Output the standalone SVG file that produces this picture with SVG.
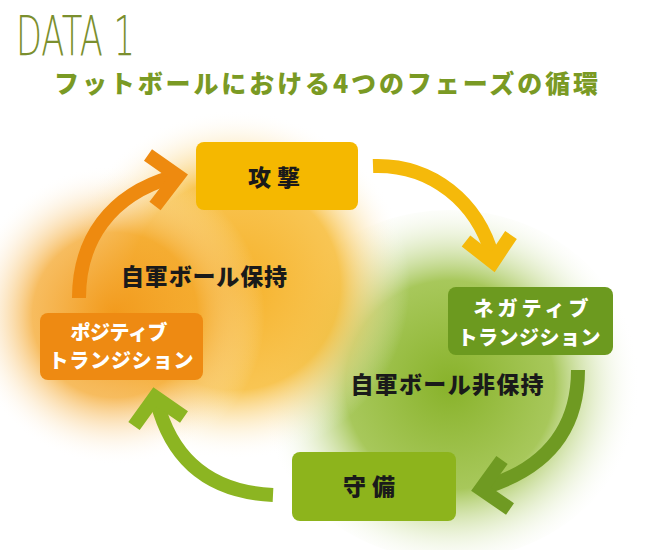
<svg xmlns="http://www.w3.org/2000/svg" width="650" height="550" viewBox="0 0 650 550">
<defs>
<radialGradient id="gYel" cx="235" cy="285" r="175" gradientUnits="userSpaceOnUse">
<stop offset="0" stop-color="#F6B12A" stop-opacity="1"/>
<stop offset="0.6" stop-color="#F7BB35" stop-opacity="0.85"/>
<stop offset="1" stop-color="#FFFFFF" stop-opacity="0"/>
</radialGradient>
<radialGradient id="gOra" cx="115" cy="315" r="150" gradientUnits="userSpaceOnUse">
<stop offset="0" stop-color="#F29A1C" stop-opacity="1"/>
<stop offset="0.55" stop-color="#F4A62A" stop-opacity="0.75"/>
<stop offset="1" stop-color="#FFFFFF" stop-opacity="0"/>
</radialGradient>
<radialGradient id="gGrn" cx="450" cy="385" r="190" gradientUnits="userSpaceOnUse">
<stop offset="0" stop-color="#88B22A" stop-opacity="1"/>
<stop offset="0.55" stop-color="#98BE3E" stop-opacity="0.85"/>
<stop offset="1" stop-color="#FFFFFF" stop-opacity="0"/>
</radialGradient>
<style>
.box{stroke:none}
.lab{font-family:"Noto Sans CJK JP","Noto Sans",sans-serif;font-weight:900;text-anchor:middle}
.blk{fill:#1A1A1A}
.wht{fill:#FFFFFF}
.arr{fill:none;stroke-width:14;stroke-linecap:butt;stroke-linejoin:miter;stroke-miterlimit:10}
</style>
</defs>
<rect width="650" height="550" fill="#FFFFFF"/>
<g id="background">
<ellipse cx="450" cy="385" rx="190" ry="175" fill="url(#gGrn)"/>
<ellipse cx="235" cy="285" rx="175" ry="175" fill="url(#gYel)"/>
<ellipse cx="115" cy="315" rx="150" ry="150" fill="url(#gOra)"/>
</g>
<g id="heading">
<text x="16" y="55" font-family="DejaVu Sans, sans-serif" font-size="56" font-weight="200" fill="#7B8F2E" textLength="119" lengthAdjust="spacingAndGlyphs">DATA 1</text>
<text x="54" y="93" font-family="Noto Sans CJK JP, sans-serif" font-size="25" font-weight="900" fill="#7A9A24" textLength="544" lengthAdjust="spacing">フットボールにおける4つのフェーズの循環</text>
</g>
<g id="connectors">
<g id="c-attack-neg">
<path class="arr" stroke="#F5B90A" d="M373 166 C432 164 478 202 493 258"/>
<polyline class="arr" stroke="#F5B90A" points="466,241 493,262 511,235"/>
</g>
<g id="c-neg-def">
<path class="arr" stroke="#6F9A22" d="M578 370 C578 430 546 468 486 487"/>
<polyline class="arr" stroke="#6F9A22" points="502,460 481,489 510,509"/>
</g>
<g id="c-def-pos">
<path class="arr" stroke="#8CB522" d="M273 495 C210 492 172 460 157 402"/>
<polyline class="arr" stroke="#8CB522" points="134,426 155,397 184,417"/>
</g>
<g id="c-pos-attack">
<path class="arr" stroke="#EE8A0F" d="M79 298 C79 240 110 195 172 177"/>
<polyline class="arr" stroke="#EE8A0F" points="148,155 178,176 155,206"/>
</g>
</g>
<g id="n-attack">
<rect class="box" x="196" y="142" width="162" height="68" rx="8" fill="#F5B800"/>
<text class="lab blk" x="277" y="186" font-size="23" letter-spacing="6">攻撃</text>
</g>
<g id="n-negative">
<rect class="box" x="448" y="287" width="165" height="68" rx="8" fill="#6C9A1F"/>
<text class="lab wht" x="531" y="316" font-size="20" textLength="115" lengthAdjust="spacing">ネガティブ</text>
<text class="lab wht" x="529" y="345" font-size="20" textLength="143" lengthAdjust="spacing">トランジション</text>
</g>
<g id="n-positive">
<rect class="box" x="40" y="313" width="163" height="67" rx="8" fill="#EE8A12"/>
<text class="lab wht" x="119" y="340" font-size="20" textLength="97" lengthAdjust="spacing">ポジティブ</text>
<text class="lab wht" x="121" y="368" font-size="20" textLength="145" lengthAdjust="spacing">トランジション</text>
</g>
<g id="n-defense">
<rect class="box" x="292" y="452" width="164" height="69" rx="8" fill="#8DB41C"/>
<text class="lab blk" x="372" y="495" font-size="23" letter-spacing="6">守備</text>
</g>
<g id="labels">
<text class="lab blk" x="204" y="285" font-size="23" textLength="166" lengthAdjust="spacing">自軍ボール保持</text>
<text class="lab blk" x="447" y="393" font-size="23" textLength="193" lengthAdjust="spacing">自軍ボール非保持</text>
</g>
</svg>
